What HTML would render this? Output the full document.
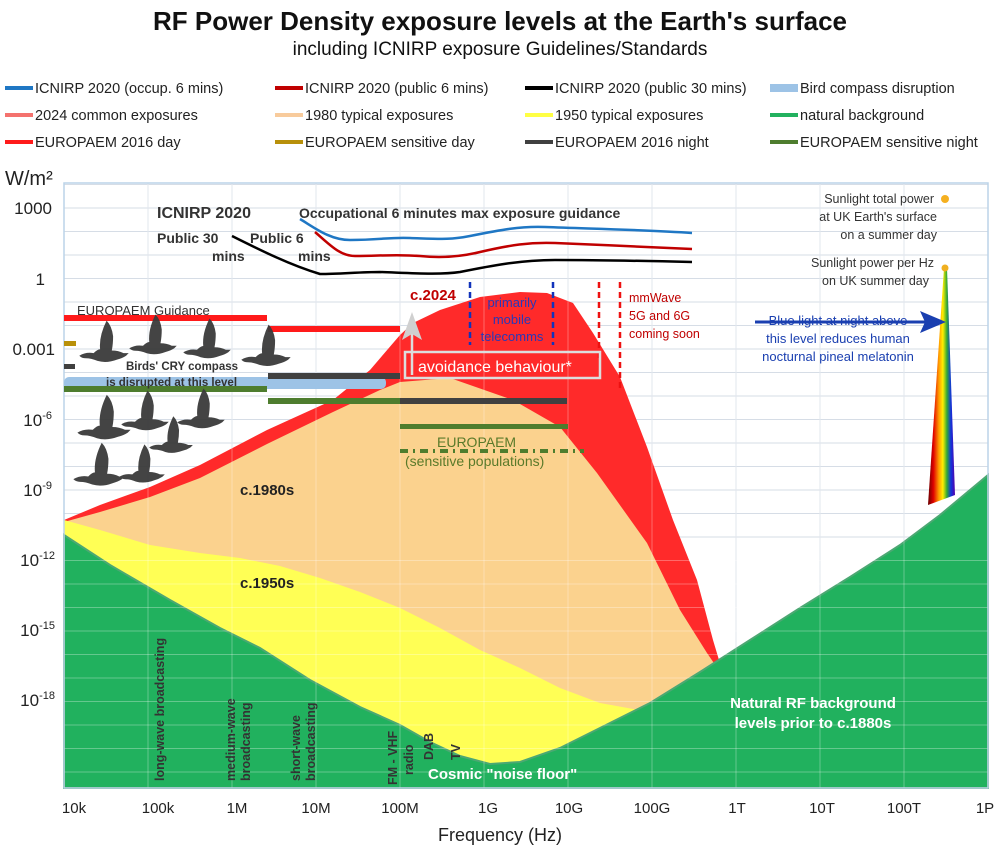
<!DOCTYPE html>
<html><head><meta charset="utf-8"><style>
html,body{margin:0;padding:0;background:#fff;}
svg{display:block;font-family:"Liberation Sans",sans-serif;}
</style></head><body>
<svg width="1000" height="852" viewBox="0 0 1000 852" xmlns="http://www.w3.org/2000/svg">
<defs>
<linearGradient id="rb" x1="0" x2="1" y1="0" y2="0">
<stop offset="0" stop-color="#6a0000"/><stop offset="0.2" stop-color="#e00000"/><stop offset="0.4" stop-color="#ff9900"/><stop offset="0.55" stop-color="#ffee00"/><stop offset="0.7" stop-color="#33aa33"/><stop offset="0.85" stop-color="#1133dd"/><stop offset="1" stop-color="#5500aa"/>
</linearGradient>
<symbol id="bird" viewBox="0 0 40 40">
<path d="M1 29 Q6 26 12 27 Q15 24 17 24 Q16 14 22 2 Q26 6 27 14 Q27 20 26 25 Q31 25 35 27 L39 27 L37 29 Q34 31 30 32 Q22 35 15 33 Q10 31 6 31 Q3 31 1 29 Z" fill="#3a3a3a"/>
</symbol>
</defs>

<text x="500" y="30" text-anchor="middle" font-size="26" font-weight="bold" fill="#111">RF Power Density exposure levels at the Earth's surface</text>
<text x="500" y="55" text-anchor="middle" font-size="19" fill="#111">including ICNIRP exposure Guidelines/Standards</text>

<g font-size="14.5" fill="#222">
<rect x="5" y="86" width="28" height="4" fill="#1f77c4"/><text x="35" y="93">ICNIRP 2020 (occup. 6 mins)</text>
<rect x="275" y="86" width="28" height="4" fill="#c00000"/><text x="305" y="93">ICNIRP 2020 (public 6 mins)</text>
<rect x="525" y="86" width="28" height="4" fill="#000"/><text x="555" y="93">ICNIRP 2020 (public 30 mins)</text>
<rect x="770" y="84" width="28" height="8" fill="#9dc3e6"/><text x="800" y="93">Bird compass disruption</text>
<rect x="5" y="113" width="28" height="4" fill="#f4726e"/><text x="35" y="120">2024 common exposures</text>
<rect x="275" y="113" width="28" height="4" fill="#f8cb9c"/><text x="305" y="120">1980 typical exposures</text>
<rect x="525" y="113" width="28" height="4" fill="#ffff44"/><text x="555" y="120">1950 typical exposures</text>
<rect x="770" y="113" width="28" height="4" fill="#22b15f"/><text x="800" y="120">natural background</text>
<rect x="5" y="140" width="28" height="4" fill="#ff1a1a"/><text x="35" y="147">EUROPAEM 2016 day</text>
<rect x="275" y="140" width="28" height="4" fill="#b8900a"/><text x="305" y="147">EUROPAEM sensitive day</text>
<rect x="525" y="140" width="28" height="4" fill="#404040"/><text x="555" y="147">EUROPAEM 2016 night</text>
<rect x="770" y="140" width="28" height="4" fill="#4e7d2e"/><text x="800" y="147">EUROPAEM sensitive night</text>
</g>

<g stroke="#d6dde6" stroke-width="1">
<line x1="64" x2="988" y1="184.5" y2="184.5"/><line x1="64" x2="988" y1="208" y2="208"/><line x1="64" x2="988" y1="231.5" y2="231.5"/><line x1="64" x2="988" y1="255" y2="255"/><line x1="64" x2="988" y1="278.5" y2="278.5"/><line x1="64" x2="988" y1="302" y2="302"/><line x1="64" x2="988" y1="325.5" y2="325.5"/><line x1="64" x2="988" y1="349" y2="349"/><line x1="64" x2="988" y1="372.5" y2="372.5"/><line x1="64" x2="988" y1="396" y2="396"/><line x1="64" x2="988" y1="419.5" y2="419.5"/><line x1="64" x2="988" y1="443" y2="443"/><line x1="64" x2="988" y1="466.5" y2="466.5"/><line x1="64" x2="988" y1="490" y2="490"/><line x1="64" x2="988" y1="513.5" y2="513.5"/><line x1="64" x2="988" y1="537" y2="537"/>
<line x1="148" x2="148" y1="183" y2="788"/><line x1="232" x2="232" y1="183" y2="788"/><line x1="316" x2="316" y1="183" y2="788"/><line x1="400" x2="400" y1="183" y2="788"/><line x1="484" x2="484" y1="183" y2="788"/><line x1="568" x2="568" y1="183" y2="788"/><line x1="652" x2="652" y1="183" y2="788"/><line x1="736" x2="736" y1="183" y2="788"/><line x1="820" x2="820" y1="183" y2="788"/><line x1="904" x2="904" y1="183" y2="788"/>
</g>

<polygon fill="#ff2a2a" points="64,520 100,505 150,487 200,465 267,430 333,400 370,370 400,335 413,323 440,310 480,297 520,292 547,293 573,303 593,333 620,377 647,447 673,520 697,580 713,640 722,670 722,788 64,788"/>
<polygon fill="#fbd28e" points="64,522 100,512 150,497 200,478 267,444 333,412 380,390 400,382 450,378 513,400 560,427 597,473 647,543 680,610 707,653 720,672 720,788 64,788"/>
<polygon fill="#ffff55" points="64,520 100,530 150,545 200,553 240,558 280,566 320,578 360,592 400,608 440,628 480,650 520,668 560,688 600,703 650,712 650,788 64,788"/>
<polygon fill="#21b15e" stroke="#4ca873" stroke-width="2" points="64,535 110,565 170,600 220,628 260,648 310,680 360,707 400,725 430,742 460,756 490,764 520,762 560,748 600,728 650,703 700,672 750,640 800,608 850,577 900,545 940,515 988,475 988,788 64,788"/>

<g stroke="#ffffff" stroke-opacity="0.3" stroke-width="1">
<line x1="64" x2="988" y1="560.5" y2="560.5"/><line x1="64" x2="988" y1="584" y2="584"/><line x1="64" x2="988" y1="607.5" y2="607.5"/><line x1="64" x2="988" y1="631" y2="631"/><line x1="64" x2="988" y1="654.5" y2="654.5"/><line x1="64" x2="988" y1="678" y2="678"/><line x1="64" x2="988" y1="701.5" y2="701.5"/><line x1="64" x2="988" y1="725" y2="725"/><line x1="64" x2="988" y1="748.5" y2="748.5"/><line x1="64" x2="988" y1="772" y2="772"/>
<line x1="148" x2="148" y1="183" y2="788"/><line x1="232" x2="232" y1="183" y2="788"/><line x1="316" x2="316" y1="183" y2="788"/><line x1="400" x2="400" y1="183" y2="788"/><line x1="484" x2="484" y1="183" y2="788"/><line x1="568" x2="568" y1="183" y2="788"/><line x1="652" x2="652" y1="183" y2="788"/><line x1="736" x2="736" y1="183" y2="788"/><line x1="820" x2="820" y1="183" y2="788"/><line x1="904" x2="904" y1="183" y2="788"/>
</g>
<rect x="64" y="183" width="924" height="605" fill="none" stroke="#bcd3e8" stroke-width="1.5"/>

<polygon fill="url(#rb)" points="928,505 944,268 947,268 955,495"/>
<circle cx="945" cy="268" r="3.5" fill="#f0b020"/>
<circle cx="945" cy="199" r="4" fill="#f5b020"/>

<path d="M300 219 C315 228 330 240 350 240 C380 240 390 237 410 238 C440 239 450 240 470 236 C500 230 520 226 545 227 C600 229 650 230 692 233" fill="none" stroke="#1f77c4" stroke-width="2.5"/>
<path d="M315 232 C330 245 340 256 355 256 C380 256 395 254 420 256 C440 258 460 257 480 252 C510 245 530 242 555 243 C600 245 650 247 692 249" fill="none" stroke="#c00000" stroke-width="2.5"/>
<path d="M232 236 C260 250 290 265 320 274 C340 274 360 272 380 272 C410 273 440 275 460 272 C490 266 520 260 555 260 C600 260 650 261 692 262" fill="none" stroke="#000" stroke-width="2.5"/>

<rect x="64" y="315" width="203" height="6" fill="#ff1a1a"/>
<rect x="268" y="326" width="132" height="6" fill="#ff1a1a"/>
<rect x="64" y="341" width="12" height="5" fill="#b8900a"/>
<rect x="64" y="364" width="11" height="5" fill="#404040"/>
<rect x="64" y="377" width="322" height="12" rx="5" fill="#9dc3e6"/>
<rect x="268" y="373" width="132" height="6" fill="#404040"/>
<rect x="400" y="398" width="167" height="6" fill="#404040"/>
<rect x="64" y="386" width="203" height="6" fill="#4e7d2e"/>
<rect x="268" y="398" width="132" height="6" fill="#4e7d2e"/>
<rect x="400" y="424" width="168" height="5" fill="#4e7d2e"/>
<line x1="400" x2="584" y1="451" y2="451" stroke="#4e7d2e" stroke-width="4" stroke-dasharray="8,5,2,5"/>

<g stroke-width="2.5" stroke-dasharray="6,4">
<line x1="470" x2="470" y1="282" y2="345" stroke="#1133bb"/>
<line x1="553" x2="553" y1="282" y2="345" stroke="#1133bb"/>
<line x1="599" x2="599" y1="282" y2="360" stroke="#ee1111"/>
<line x1="620" x2="620" y1="282" y2="390" stroke="#ee1111"/>
</g>

<line x1="412" x2="412" y1="375" y2="325" stroke="#ddd" stroke-width="2.5"/>
<polygon points="412,312 402,340 412,334 422,340" fill="#d0d0d0"/>
<rect x="405" y="352" width="195" height="26" fill="none" stroke="#ddd" stroke-width="2.5"/>
<text x="418" y="372" font-size="16" fill="#fff">avoidance behaviour*</text>

<line x1="755" x2="928" y1="322" y2="322" stroke="#1a3fb0" stroke-width="3"/>
<polygon points="946,322 920,311 925,322 920,333" fill="#1a3fb0"/>

<g opacity="0.95">
<use href="#bird" x="78" y="318" width="52" height="52"/>
<use href="#bird" x="128" y="312" width="50" height="50"/>
<use href="#bird" x="182" y="316" width="50" height="50"/>
<use href="#bird" x="240" y="322" width="52" height="52"/>
<use href="#bird" x="76" y="392" width="56" height="56"/>
<use href="#bird" x="120" y="388" width="50" height="50"/>
<use href="#bird" x="176" y="386" width="50" height="50"/>
<use href="#bird" x="148" y="414" width="46" height="46"/>
<use href="#bird" x="72" y="440" width="54" height="54"/>
<use href="#bird" x="118" y="442" width="48" height="48"/>
</g>

<g font-size="17" fill="#222" text-anchor="end">
<text x="52" y="214">1000</text>
<text x="45" y="285">1</text>
<text x="55" y="355">0.001</text>
<text x="52" y="426">10<tspan dy="-7" font-size="11">-6</tspan></text>
<text x="52" y="496">10<tspan dy="-7" font-size="11">-9</tspan></text>
<text x="55" y="566">10<tspan dy="-7" font-size="11">-12</tspan></text>
<text x="55" y="636">10<tspan dy="-7" font-size="11">-15</tspan></text>
<text x="55" y="706">10<tspan dy="-7" font-size="11">-18</tspan></text>
</g>
<text x="5" y="185" font-size="20" fill="#222">W/m²</text>
<g font-size="15" fill="#222" text-anchor="middle">
<text x="74" y="813">10k</text><text x="158" y="813">100k</text><text x="237" y="813">1M</text><text x="316" y="813">10M</text><text x="400" y="813">100M</text><text x="488" y="813">1G</text><text x="569" y="813">10G</text><text x="652" y="813">100G</text><text x="737" y="813">1T</text><text x="822" y="813">10T</text><text x="904" y="813">100T</text><text x="985" y="813">1P</text>
</g>
<text x="500" y="841" text-anchor="middle" font-size="18" fill="#222">Frequency (Hz)</text>

<g font-weight="bold" fill="#333">
<text x="157" y="218" font-size="16">ICNIRP 2020</text>
<text x="299" y="218" font-size="14">Occupational 6 minutes max exposure guidance</text>
<text x="157" y="243" font-size="14">Public 30</text>
<text x="212" y="261" font-size="14">mins</text>
<text x="250" y="243" font-size="14">Public 6</text>
<text x="298" y="261" font-size="14">mins</text>
</g>
<text x="77" y="315" font-size="13" fill="#333">EUROPAEM Guidance</text>
<text x="126" y="370" font-size="11.5" font-weight="bold" fill="#333">Birds' CRY compass</text>
<text x="106" y="386" font-size="11.5" font-weight="bold" fill="#333">is disrupted at this level</text>
<text x="410" y="300" font-size="15" font-weight="bold" fill="#c00000">c.2024</text>
<g font-size="13" fill="#2838b8" text-anchor="middle">
<text x="512" y="307">primarily</text><text x="512" y="324">mobile</text><text x="512" y="341">telecomms</text>
</g>
<g font-size="12.5" fill="#c00000">
<text x="629" y="302">mmWave</text><text x="629" y="320">5G and 6G</text><text x="629" y="338">coming soon</text>
</g>
<g font-size="13" fill="#1a3fb0" text-anchor="middle">
<text x="838" y="325">Blue light at night above</text><text x="838" y="343">this level reduces human</text><text x="838" y="361">nocturnal pineal melatonin</text>
</g>
<g font-size="12.5" fill="#333" text-anchor="end">
<text x="934" y="203">Sunlight total power</text><text x="937" y="221">at UK Earth's surface</text><text x="937" y="239">on a summer day</text>
<text x="934" y="267">Sunlight power per Hz</text><text x="929" y="285">on UK summer day</text>
</g>
<text x="437" y="447" font-size="14" fill="#5a7a2a">EUROPAEM</text>
<text x="405" y="466" font-size="14" fill="#5a7a2a">(sensitive populations)</text>
<text x="240" y="495" font-size="15" font-weight="bold" fill="#222">c.1980s</text>
<text x="240" y="588" font-size="15" font-weight="bold" fill="#222">c.1950s</text>
<g font-size="15" font-weight="bold" fill="#fff" text-anchor="middle">
<text x="813" y="708">Natural RF background</text>
<text x="813" y="728">levels prior to c.1880s</text>
</g>
<text x="428" y="779" font-size="15" font-weight="bold" fill="#fff">Cosmic "noise floor"</text>
<g font-size="12.5" font-weight="bold" fill="#333">
<text transform="translate(164,781) rotate(-90)">long-wave broadcasting</text>
<text transform="translate(235,781) rotate(-90)">medium-wave</text>
<text transform="translate(250,781) rotate(-90)">broadcasting</text>
<text transform="translate(300,781) rotate(-90)">short-wave</text>
<text transform="translate(315,781) rotate(-90)">broadcasting</text>
<text transform="translate(397,785) rotate(-90)">FM - VHF</text>
<text transform="translate(413,775) rotate(-90)">radio</text>
<text transform="translate(433,760) rotate(-90)">DAB</text>
<text transform="translate(460,760) rotate(-90)">TV</text>
</g>
</svg>
</body></html>
